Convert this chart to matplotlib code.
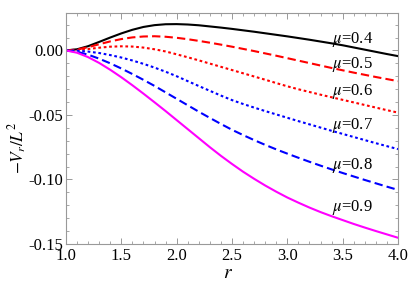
import matplotlib
matplotlib.use("Agg")
import matplotlib.pyplot as plt
from matplotlib.ticker import MultipleLocator, FormatStrFormatter

plt.rcParams['font.family'] = ['Liberation Serif', 'DejaVu Serif']
plt.rcParams['mathtext.fontset'] = 'stix'
plt.rcParams['axes.unicode_minus'] = True

# values, r = 1.0 ... 4.0 in steps of 0.1
r = [1.0, 1.1, 1.2, 1.3, 1.4, 1.5, 1.6, 1.7, 1.8, 1.9,
     2.0, 2.1, 2.2, 2.3, 2.4, 2.5, 2.6, 2.7, 2.8, 2.9,
     3.0, 3.1, 3.2, 3.3, 3.4, 3.5, 3.6, 3.7, 3.8, 3.9, 4.0]
mu_04 = [0.0, 0.0009, 0.0033, 0.0066, 0.0100, 0.0132, 0.0160, 0.0182, 0.0196, 0.0203,
         0.0204, 0.0201, 0.0195, 0.0186, 0.0177, 0.0167, 0.0156, 0.0145, 0.0133, 0.0121,
         0.0109, 0.0096, 0.0083, 0.0069, 0.0055, 0.0040, 0.0023, 0.0006, -0.0011, -0.0028, -0.0044]
mu_05 = [0.0, 0.0007, 0.0025, 0.0048, 0.0070, 0.0088, 0.0101, 0.0108, 0.0110, 0.0106,
         0.0098, 0.0087, 0.0074, 0.0060, 0.0045, 0.0029, 0.0012, -0.0005, -0.0023, -0.0041,
         -0.0060, -0.0079, -0.0098, -0.0117, -0.0136, -0.0154, -0.0172, -0.0189, -0.0206, -0.0222, -0.0238]
mu_06 = [0.0, 0.0003, 0.0011, 0.0021, 0.0029, 0.0032, 0.0030, 0.0022, 0.0009, -0.0008,
         -0.0030, -0.0053, -0.0077, -0.0102, -0.0127, -0.0152, -0.0177, -0.0202, -0.0227, -0.0253,
         -0.0278, -0.0301, -0.0322, -0.0343, -0.0363, -0.0383, -0.0403, -0.0423, -0.0443, -0.0463, -0.0482]
mu_07 = [0.0, -0.0002, -0.0009, -0.0020, -0.0036, -0.0055, -0.0078, -0.0104, -0.0133, -0.0165,
         -0.0200, -0.0238, -0.0276, -0.0313, -0.0350, -0.0385, -0.0415, -0.0443, -0.0470, -0.0496,
         -0.0522, -0.0548, -0.0573, -0.0598, -0.0623, -0.0647, -0.0671, -0.0695, -0.0719, -0.0742, -0.0765]
mu_08 = [0.0, -0.0010, -0.0033, -0.0064, -0.0100, -0.0140, -0.0183, -0.0228, -0.0275, -0.0325,
         -0.0375, -0.0425, -0.0475, -0.0523, -0.0570, -0.0615, -0.0656, -0.0695, -0.0732, -0.0767,
         -0.0800, -0.0832, -0.0863, -0.0893, -0.0922, -0.0950, -0.0977, -0.1004, -0.1030, -0.1056, -0.1081]
mu_09 = [0.0, -0.0018, -0.0052, -0.0097, -0.0150, -0.0208, -0.0270, -0.0335, -0.0402, -0.0470,
         -0.0540, -0.0610, -0.0680, -0.0750, -0.0817, -0.0880, -0.0940, -0.0995, -0.1047, -0.1095,
         -0.1140, -0.1180, -0.1218, -0.1253, -0.1285, -0.1315, -0.1345, -0.1373, -0.1400, -0.1426, -0.1452]

series = [mu_04, mu_05, mu_06, mu_07, mu_08, mu_09]
labels = [r'$\mu$=0.4', r'$\mu$=0.5', r'$\mu$=0.6', r'$\mu$=0.7', r'$\mu$=0.8', r'$\mu$=0.9']
colors = ['black', '#ff0000', '#ff0000', '#0000ff', '#0000ff', '#ff00ff']
dashes = [None, (4, 2), (1.3, 1.3), (1.3, 1.3), (4, 2), None]
label_y = [0.0085, -0.0108, -0.032, -0.0582, -0.0895, -0.122]

fig = plt.figure(figsize=(4.15, 2.83), dpi=100)
ax = fig.add_axes([0.159, 0.138, 0.8, 0.816])

for ys, c, d in zip(series, colors, dashes):
    line, = ax.plot(r, ys, color=c, lw=1.5)
    if d is not None:
        line.set_dashes(d)

for lab, ly in zip(labels, label_y):
    ax.text(3.4, ly, lab, fontsize=12, va='center', ha='left')

ax.set_xlim(1.0, 4.0)
ax.set_ylim(-0.15, 0.029)
ax.xaxis.set_major_locator(MultipleLocator(0.5))
ax.xaxis.set_minor_locator(MultipleLocator(0.1))
ax.yaxis.set_major_locator(MultipleLocator(0.05))
ax.yaxis.set_minor_locator(MultipleLocator(0.01))
ax.xaxis.set_major_formatter(FormatStrFormatter('%.1f'))
ax.yaxis.set_major_formatter(FormatStrFormatter('%.2f'))

for s in ax.spines.values():
    s.set_color('#999999')
    s.set_linewidth(0.8)
ax.tick_params(which='both', direction='in', top=True, right=True, color='#999999', labelsize=12)
ax.tick_params(axis='x', pad=3)
ax.tick_params(axis='y', pad=2)
ax.tick_params(which='major', length=4, width=0.7)
ax.tick_params(which='minor', length=2, width=0.6)

ax.set_xlabel(r'$r$', fontsize=14)
ax.set_ylabel(r'$-V_r/L^2$', fontsize=12.5)
ax.xaxis.set_label_coords(0.488, -0.092)
ax.yaxis.set_label_coords(-0.11, 0.415)

fig.savefig('out.png', dpi=100)
